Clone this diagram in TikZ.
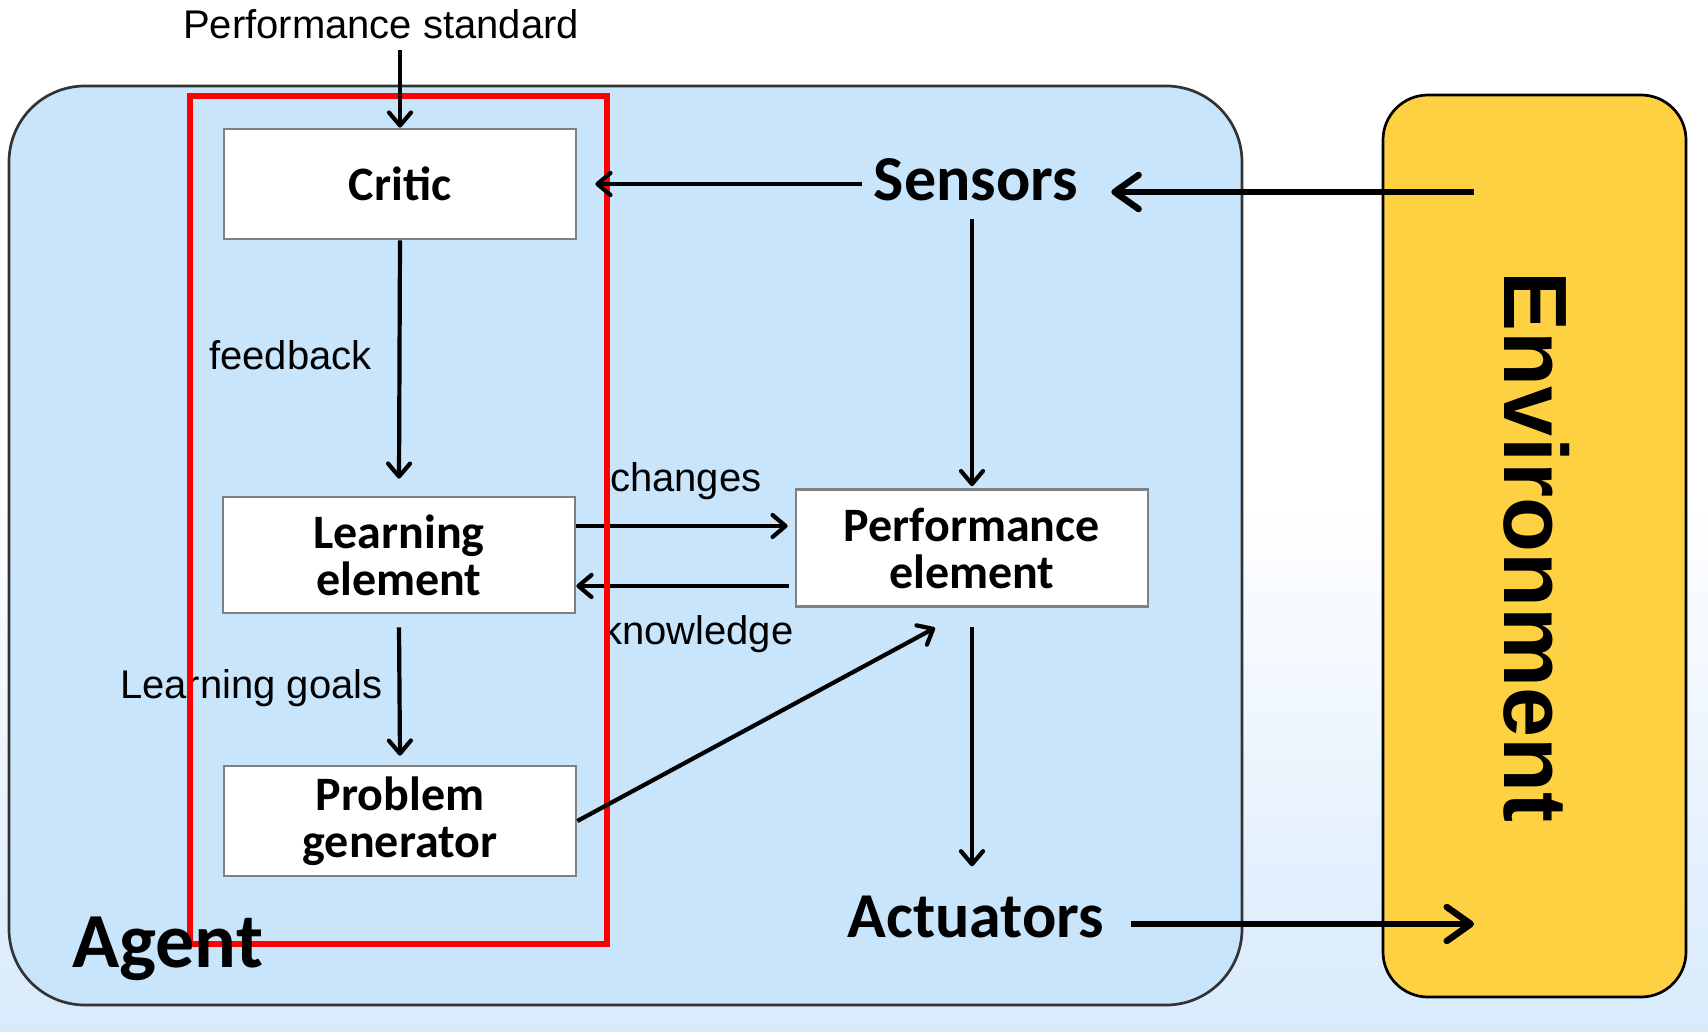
\documentclass[tikz,border=0pt]{standalone}
\usepackage{fontspec}
\setmainfont{Liberation Sans}
\newfontfamily\carl{Carlito}
\usetikzlibrary{arrows.meta}
\definecolor{agentblue}{RGB}{200,229,252}
\definecolor{envyellow}{RGB}{254,209,67}
\definecolor{bgblue}{RGB}{216,234,252}
\definecolor{boxgray}{RGB}{128,128,128}
\begin{document}
\begin{tikzpicture}[x=1pt,y=-1pt,
  box/.style={draw=boxgray, line width=2.7pt, fill=white, minimum width=352pt, inner sep=0pt, align=center, font=\carl\bfseries\fontsize{48}{47}\selectfont},
  lbl/.style={font=\fontsize{40}{48}\selectfont, inner sep=0pt},
  bigl/.style={font=\carl\bfseries\fontsize{64}{70}\selectfont, inner sep=0pt},
  arr/.style={line width=4.2pt, -{Straight Barb[length=13pt,width=22pt,round]}},
  thickarr/.style={line width=6.5pt, -{Straight Barb[length=24pt,width=34pt,round]}}]
\useasboundingbox (0,0) rectangle (1708,1032);
\fill[white] (0,0) rectangle (1708,1032);
\shade[top color=white, bottom color=bgblue] (0,500) rectangle (1708,1032);
% containers
\draw[fill=agentblue, draw=black!80, line width=2.7pt, rounded corners=76pt] (9,86) rectangle (1242,1005);
\draw[fill=envyellow, draw=black, line width=2.7pt, rounded corners=45pt] (1383,95) rectangle (1686,997);
\node[rotate=-90, font=\bfseries\fontsize{90}{90}\selectfont, inner sep=0pt] (envtxt) at (1537,547) {Environment};
\coordinate (envin) at (1474,192);
\coordinate (envout) at (1474,924);
% boxes
\node[box, minimum height=110pt] (critic) at (400,184) {Critic};
\node[box, minimum height=116pt] (learn) at (399,555) {Learning\\element};
\node[box, minimum height=110pt] (prob) at (400,821) {Problem\\generator};
\node[box, minimum height=117pt] (perf) at (972,548) {Performance\\element};
% text nodes
\node[lbl, anchor=base] (ps) at (381,39) {Performance standard};
\node[bigl, anchor=base] (sens) at (976,201) {Sensors};
\node[bigl, anchor=base] (act) at (976,937) {Actuators};
% labels under red frame
\node[lbl, anchor=base west] (fb) at (209,369) {feedback};
\node[lbl, anchor=base west] (chg) at (610,491) {changes};
\node[lbl, anchor=base west] (knw) at (602,644) {knowledge};
\node[lbl, anchor=base west] (lg) at (120,698) {Learning goals};
% changes / knowledge arrows
\draw[arr, shorten >=7pt] ([yshift=29pt]learn.east) -- ([yshift=29pt]learn.east -| perf.west);
\draw[arr] ([xshift=-6pt,yshift=-38pt]perf.west) -- ([yshift=-38pt]perf.west -| learn.east);
% red frame
\draw[red, line width=6pt] (190,96) rectangle (607,944);
% other arrows
\draw[arr] (ps.south -| critic.north) ++(0,10) -- (critic.north);
\draw[arr] ([xshift=-12pt]sens.west |- critic.east) -- ([xshift=18pt]critic.east);
\coordinate (sensin) at ([xshift=33pt]sens.east);
\draw[thickarr] (envin) -- (envin -| sensin);
\draw[arr] ([yshift=-17pt]sens.south -| perf.north) -- ([yshift=2pt]perf.north);
\draw[arr] (critic.south) -- ([yshift=17pt]learn.north);
\draw[arr] ([yshift=-13pt]learn.south) -- ([yshift=9pt]prob.north);
\draw[arr] (prob.east) -- ([xshift=-37pt,yshift=-20pt]perf.south);
\coordinate (acttop) at ([yshift=29pt]act.north);
\draw[arr] ([yshift=-19pt]perf.south) -- (acttop -| perf.south);
\coordinate (actout) at ([xshift=27pt]act.east);
\draw[thickarr] (actout |- envout) -- (envout);
% agent label
\node[font=\carl\bfseries\fontsize{78}{80}\selectfont, inner sep=0pt, anchor=base west] (agent) at (72,967) {Agent};
\end{tikzpicture}
\end{document}
